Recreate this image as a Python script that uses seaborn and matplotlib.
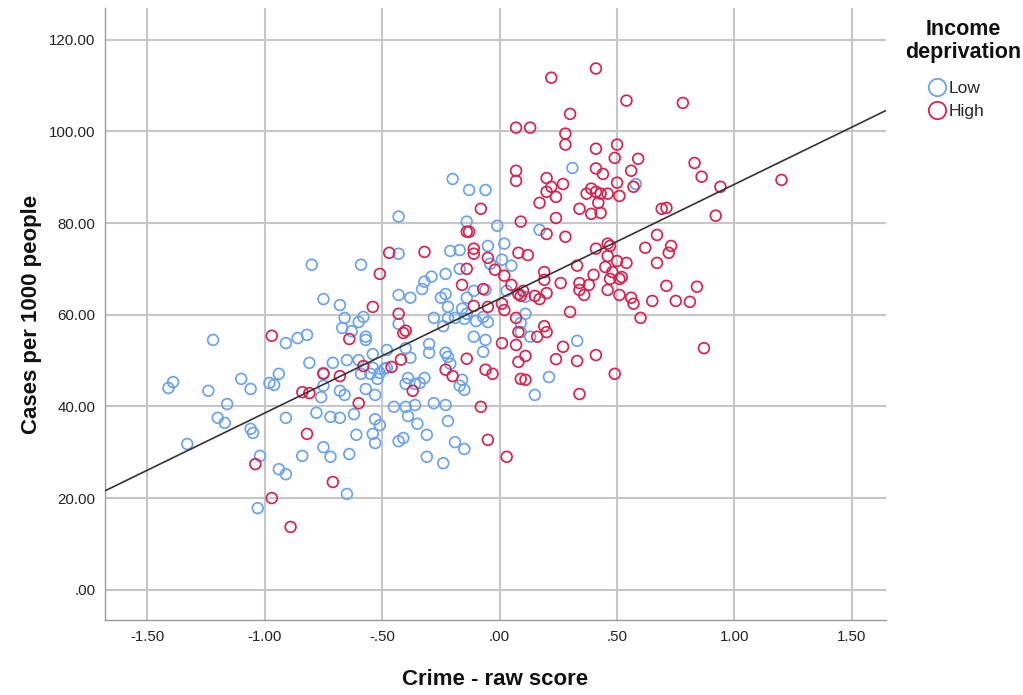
import numpy as np
import pandas as pd
import matplotlib
matplotlib.use("Agg")
import matplotlib.pyplot as plt
import seaborn as sns
from matplotlib.lines import Line2D
from matplotlib.ticker import FuncFormatter

# ---- data ----
low_x = [-1.41, -1.39, -1.33, -1.24, -1.22, -1.20, -1.17, -1.16, -1.10, -1.06, -1.06, -1.05, -1.03, -1.02,
         -0.98, -0.96, -0.94, -0.94, -0.91, -0.91, -0.91, -0.86, -0.84, -0.82, -0.80, -0.81, -0.78, -0.75,
         -0.75, -0.75, -0.76, -0.75, -0.72, -0.72, -0.71, -0.68, -0.68, -0.68, -0.67, -0.66, -0.63, -0.60,
         -0.58, -0.59, -0.57, -0.57, -0.54, -0.65, -0.60, -0.48, -0.59, -0.57, -0.66, -0.55, -0.54, -0.52,
         -0.51, -0.49, -0.53, -0.39, -0.40, -0.34, -0.32, -0.36, -0.45, -0.40, -0.36, -0.28, -0.23, -0.16,
         -0.17, -0.15, -0.62, -0.53, -0.51, -0.61, -0.54, -0.53, -0.39, -0.35, -0.43, -0.41, -0.31, -0.22,
         -0.19, -0.15, -0.64, -0.31, -0.24, -0.65, -0.43, -0.43, -0.21, -0.17, -0.14, -0.01, -0.05, 0.02,
         -0.04, 0.01, 0.05, -0.29, -0.32, -0.33, -0.23, -0.43, -0.38, -0.25, -0.23, -0.14, -0.11, -0.06,
         -0.22, -0.43, -0.28, -0.22, -0.19, -0.16, -0.15, -0.24, -0.10, -0.07, -0.05, -0.11, -0.06, -0.48,
         -0.40, -0.38, -0.30, -0.30, -0.23, -0.22, -0.07, -0.21, -0.20, -0.13, -0.06, 0.31, 0.58, 0.17,
         0.11, 0.09, 0.09, 0.13, 0.33, 0.21, 0.15, 0.11, 0.03, -0.17, -0.14]
low_y = [44.0, 45.3, 31.8, 43.4, 54.5, 37.5, 36.4, 40.5, 46.0, 43.8, 35.1, 34.2, 17.8, 29.2,
         45.1, 44.7, 47.1, 26.3, 25.2, 37.5, 53.8, 54.9, 29.2, 55.6, 70.9, 49.5, 38.6, 63.4,
         47.3, 44.5, 42.0, 31.1, 37.7, 29.0, 49.5, 43.4, 37.5, 62.1, 57.1, 59.3, 56.4, 58.4,
         59.5, 70.9, 55.2, 54.5, 51.4, 50.1, 50.1, 48.4, 47.1, 43.8, 42.5, 47.1, 48.4, 46.0,
         47.3, 48.2, 42.5, 46.2, 44.9, 45.1, 46.2, 44.9, 39.9, 39.9, 40.3, 40.7, 40.3, 45.8,
         44.5, 43.6, 38.3, 37.2, 35.9, 33.8, 34.0, 32.0, 37.9, 36.2, 32.4, 33.1, 33.8, 36.8,
         32.2, 30.7, 29.6, 29.0, 27.6, 20.9, 81.4, 73.3, 73.9, 74.1, 80.3, 79.4, 75.0, 75.5,
         71.1, 72.0, 70.7, 68.3, 67.2, 65.6, 68.9, 64.3, 63.7, 63.7, 64.5, 63.7, 65.2, 65.4,
         61.7, 58.0, 59.3, 59.3, 59.3, 61.3, 59.1, 57.5, 58.6, 59.5, 58.4, 55.2, 54.5, 52.3,
         52.7, 50.6, 53.6, 51.7, 51.7, 50.8, 51.9, 49.3, 89.6, 87.2, 87.2, 92.0, 88.5, 78.5,
         60.2, 58.2, 56.2, 55.2, 54.3, 46.4, 42.5, 63.9, 65.2, 70.0, 60.2]

high_x = [-1.04, -0.97, -0.97, -0.89, -0.82, -0.84, -0.81, -0.75, -0.71, -0.68, -0.64, -0.58, -0.60,
          -0.54, -0.51, -0.47, -0.46, -0.42, -0.43, -0.41, -0.40, -0.37, -0.32, -0.23, -0.20, -0.16,
          -0.14, -0.14, -0.13, -0.14, -0.11, -0.11, -0.11, -0.08, -0.08, -0.07, -0.06, -0.05, -0.05,
          -0.05, -0.03, -0.02, 0.01, 0.02, 0.01, 0.02, 0.03, 0.05, 0.07, 0.07, 0.07, 0.07, 0.07, 0.08,
          0.08, 0.08, 0.08, 0.09, 0.09, 0.09, 0.10, 0.11, 0.11, 0.12, 0.13, 0.15, 0.16, 0.17, 0.17,
          0.19, 0.19, 0.19, 0.20, 0.20, 0.20, 0.20, 0.20, 0.22, 0.22, 0.24, 0.24, 0.24, 0.26, 0.27,
          0.27, 0.28, 0.28, 0.28, 0.30, 0.30, 0.33, 0.33, 0.34, 0.34, 0.34, 0.34, 0.36, 0.37, 0.38,
          0.39, 0.39, 0.40, 0.41, 0.41, 0.41, 0.41, 0.41, 0.41, 0.42, 0.43, 0.43, 0.44, 0.45, 0.46,
          0.46, 0.46, 0.46, 0.47, 0.47, 0.48, 0.49, 0.49, 0.50, 0.50, 0.50, 0.51, 0.51, 0.51, 0.52,
          0.54, 0.54, 0.56, 0.56, 0.57, 0.57, 0.59, 0.60, 0.62, 0.65, 0.67, 0.67, 0.69, 0.71, 0.71,
          0.72, 0.73, 0.75, 0.78, 0.81, 0.83, 0.84, 0.86, 0.87, 0.92, 0.94, 1.20]
high_y = [27.4, 20.0, 55.4, 13.7, 34.0, 43.1, 42.9, 47.1, 23.5, 46.6, 54.7, 48.8, 40.7,
          61.7, 68.9, 73.5, 48.6, 50.2, 60.2, 56.0, 56.5, 43.4, 73.7, 48.0, 46.6, 66.5,
          50.4, 78.1, 78.1, 70.0, 74.4, 73.3, 61.9, 39.9, 83.1, 65.6, 48.0, 72.4, 32.7,
          61.7, 47.1, 69.8, 62.4, 61.0, 53.8, 68.5, 29.0, 66.5, 100.8, 91.4, 89.2, 59.3, 53.4, 49.7,
          64.5, 56.2, 73.5, 80.3, 46.0, 64.1, 65.2, 51.0, 45.8, 73.0, 100.8, 64.1, 55.2, 63.4, 84.4,
          57.5, 69.3, 67.6, 89.8, 86.8, 56.2, 77.6, 64.7, 111.7, 87.9, 81.1, 50.3, 85.7, 66.9, 53.0,
          88.5, 97.1, 77.0, 99.5, 103.8, 60.6, 49.9, 70.7, 83.1, 65.4, 66.9, 42.7, 64.3, 86.4, 66.5,
          82.0, 87.5, 68.7, 86.8, 74.4, 113.7, 96.2, 91.9, 51.2, 84.4, 82.2, 86.4, 90.7, 70.4, 86.4,
          75.5, 72.8, 65.4, 75.0, 67.8, 69.3, 94.2, 47.1, 97.1, 88.8, 71.7, 85.9, 67.8, 64.3, 68.2,
          71.3, 106.7, 91.4, 63.7, 87.9, 62.4, 94.0, 59.3, 74.6, 63.0, 71.3, 77.4, 83.1, 66.3, 83.3,
          73.5, 75.0, 63.0, 106.2, 62.8, 93.1, 66.1, 90.1, 52.7, 81.6, 87.9, 89.4]

groups = ["Low", "High"]
x_ticks = [-1.5, -1.0, -0.5, 0.0, 0.5, 1.0, 1.5]
y_ticks = [0, 20, 40, 60, 80, 100, 120]

df = pd.DataFrame({
    "crime": low_x + high_x,
    "cases": low_y + high_y,
    "group": ["Low"] * len(low_x) + ["High"] * len(high_x),
})

colors = {"Low": "#6aa3ec", "High": "#d8234e"}

sns.set_theme(style="white")
plt.rcParams["font.family"] = ["Liberation Sans", "DejaVu Sans"]

fig = plt.figure(figsize=(10.23, 6.95), dpi=100)
ax = fig.add_axes([105 / 1023, 1 - 620 / 695, (886 - 105) / 1023, (620 - 8) / 695])

ax.set_xlim(-1.68, 1.645)
ax.set_ylim(-6.6, 126.9)

sns.scatterplot(data=df, x="crime", y="cases", hue="group", palette=colors,
                hue_order=groups, s=60, linewidth=1.25, ax=ax, legend=False, zorder=3)
for coll in ax.collections:
    fc = coll.get_facecolors()
    coll.set_edgecolors(fc)
    coll.set_facecolors("none")

sns.regplot(data=df, x="crime", y="cases", scatter=False, ci=None, truncate=False,
            color="#333333", line_kws={"linewidth": 1.2, "zorder": 4}, ax=ax)

ax.set_xticks(x_ticks)
ax.set_yticks(y_ticks)


def spss_fmt(v, pos):
    s = f"{v:.2f}"
    if s.startswith("0."):
        s = s[1:]
    elif s.startswith("-0."):
        s = "-" + s[2:]
    return s


ax.xaxis.set_major_formatter(FuncFormatter(spss_fmt))
ax.yaxis.set_major_formatter(FuncFormatter(spss_fmt))
ax.grid(True, color="#c6c6c6", linewidth=1.5)
ax.set_axisbelow(True)
for side in ["top", "right"]:
    ax.spines[side].set_visible(False)
for side in ["left", "bottom"]:
    ax.spines[side].set_color("#9a9a9a")
    ax.spines[side].set_linewidth(1.0)
ax.tick_params(axis="both", labelsize=10.8, colors="#222222", length=4, width=1, direction="out",
               color="#9a9a9a", pad=3)

ax.set_xlabel("Crime - raw score", fontsize=16, fontweight="bold", labelpad=18, color="#111111")
ax.set_ylabel("Cases per 1000 people", fontsize=16, fontweight="bold", labelpad=5, color="#111111")

fig.text(963 / 1023, 1 - 19 / 695, "Income\ndeprivation", ha="center", va="top",
         fontsize=15.5, fontweight="bold", color="#111111", linespacing=1.15)
handles = [Line2D([0], [0], marker="o", linestyle="none", markersize=12.5, markerfacecolor="none",
                  markeredgecolor=colors[g], markeredgewidth=1.3, label=g) for g in groups]
fig.legend(handles=handles, loc="upper left", bbox_to_anchor=(927 / 1023, 1 - 81 / 695),
           frameon=False, fontsize=12.5, handletextpad=0.05, labelspacing=0.45,
           borderpad=0, borderaxespad=0, handlelength=1.2)

fig.savefig("out.png", dpi=100)
